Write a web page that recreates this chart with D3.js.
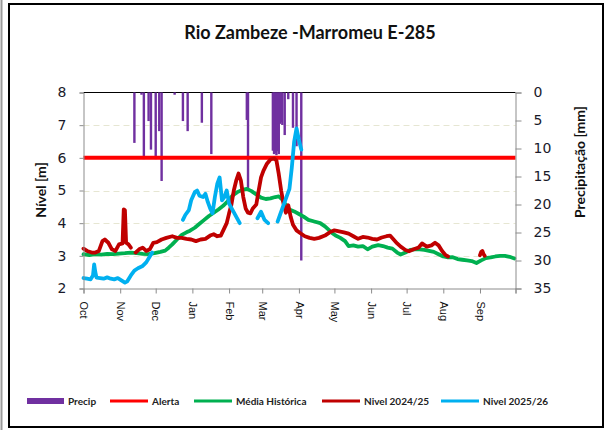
<!DOCTYPE html>
<html><head><meta charset="utf-8">
<script src="https://cdn.jsdelivr.net/npm/d3@7"></script>
<style>
html,body{margin:0;padding:0;background:#fff;}
svg{display:block;}
</style></head>
<body>
<svg id="chart" width="615" height="430"></svg>
<script>
// ---------- DATA ----------
const title = "Rio Zambeze -Marromeu E-285";
const monthLabels = ["Oct","Nov","Dec","Jan","Feb","Mar","Apr","May","Jun","Jul","Aug","Sep"];
const monthStartDays = [0,31,61,92,123,151,182,212,243,273,304,335];
const yearDays = 365;
const levelTicks = [2,3,4,5,6,7,8];
const precipTicks = [0,5,10,15,20,25,30,35];
const alertLevel = 6;

// Média Histórica (day offset from 1 Oct, level m)
const mediaDays = [0,5,10,15,20,25,30,35,40,45,50,55,60,65,69,72,75,79,83,87,90,94,98,102,106,110,114,118,122,126,130,134,138,142,146,150,154,158,162,165,168,171,174,178,182,186,190,195,200,204,207,210,213,217,221,224,228,232,236,240,244,249,253,257,261,265,268,272,276,280,284,288,292,296,300,304,308,312,316,320,324,328,332,336,340,344,348,352,356,360,364];
const mediaVals = [3.05,3.02,3.05,3.04,3.06,3.05,3.07,3.08,3.1,3.08,3.06,3.05,3.08,3.12,3.16,3.25,3.35,3.5,3.64,3.72,3.77,3.86,3.98,4.1,4.22,4.32,4.42,4.53,4.68,4.85,4.95,5.02,5.05,4.98,4.88,4.78,4.74,4.76,4.8,4.82,4.72,4.55,4.42,4.36,4.28,4.2,4.1,4.05,4.0,3.9,3.8,3.7,3.62,3.55,3.45,3.3,3.32,3.28,3.3,3.2,3.28,3.33,3.3,3.25,3.22,3.1,3.04,3.1,3.18,3.2,3.2,3.18,3.15,3.12,3.05,2.98,2.95,2.96,2.9,2.88,2.86,2.84,2.78,2.86,2.93,2.95,2.98,3.0,3.0,2.97,2.92];

// Nível 2024/25
const n2425Days = [0,3,7,10,13,16,18,21,24,27,30,33,34,35,36,38,40,42,44,47,50,53,56,59,62,66,70,75,79,83,87,91,95,99,103,107,110,113,116,119,121,123,125,127,129,131,133,135,137,139,141,143,146,148,150,152,155,158,161,163,165,167,169,171,173,175,177,180,183,187,191,195,199,204,208,212,216,220,224,228,232,236,240,244,248,252,256,259,262,265,268,272,275,279,283,286,290,294,297,300,303,306,308,320,335,336,337,338,339];
const n2425Vals = [3.22,3.15,3.1,3.1,3.15,3.45,3.5,3.4,3.2,3.15,3.35,3.38,4.42,4.4,3.4,3.35,3.25,null,3.1,3.2,3.25,3.15,3.2,3.4,3.42,3.5,3.55,3.6,3.55,3.55,3.52,3.5,3.45,3.5,3.52,3.62,3.66,3.6,3.62,3.85,4.0,4.3,4.57,5.0,5.3,5.52,5.3,4.8,4.45,4.32,4.3,4.45,4.57,5.0,5.4,5.6,5.82,5.95,5.98,5.92,5.5,5.0,4.6,4.32,4.55,4.2,3.95,3.78,3.7,3.6,3.55,3.52,3.55,3.62,3.72,3.78,3.75,3.72,3.68,3.6,3.52,3.58,3.56,3.52,3.5,3.56,3.6,3.62,3.5,3.38,3.28,3.18,3.14,3.2,3.25,3.38,3.28,3.32,3.4,3.32,3.15,3.02,2.98,null,3.02,3.12,3.15,3.05,3.0];

// Nível 2025/26
const n2526Days = [0,3,6,8,9,10,11,14,17,20,23,26,29,32,35,37,40,43,46,50,53,56,58,70,84,86,89,91,94,96,98,101,103,105,107,109,111,113,115,117,119,121,123,126,129,132,140,147,150,153,156,160,164,166,168,171,174,176,178,180,182,184];
const n2526Vals = [2.32,2.3,2.28,2.4,2.74,2.5,2.33,2.32,2.3,2.34,2.3,2.28,2.32,2.25,2.18,2.22,2.4,2.55,2.62,2.69,2.8,2.98,3.1,null,4.1,4.25,4.4,4.7,4.95,5.0,4.84,4.8,4.9,4.65,4.45,4.3,4.8,5.2,5.4,4.7,4.8,5.0,4.6,4.4,4.2,4.0,null,4.15,4.35,4.1,4.0,null,4.05,4.25,4.45,4.75,5.05,5.7,6.5,6.9,6.55,6.25];

// Precipitação (day offset, mm)
const precipDays = [43,49,51,55,57,61,64,66,77,84,88,100,108,138,139,160,161,162,163,164,165,166,167,168,170,173,177,180,184];
const precipVals = [9.0,0.4,11.9,5.1,10.2,11.9,6.9,15.8,0.4,5.1,6.9,5.4,11.0,4.9,17.5,10.4,11.0,10.8,11.2,10.5,11.0,5.6,5.3,5.8,7.6,1.2,6.3,9.6,30.0];

// Legend
const legendNames = ["Precip","Alerta","Média Histórica","Nivel 2024/25","Nivel 2025/26"];
const colors = {precip:"#7030a0", alerta:"#ff0000", media:"#00b050", n2425:"#c00000", n2526:"#00b0f0"};

// ---------- LAYOUT ----------
const svg = d3.select("#chart");
const L = 83.5, R = 515.5, T = 92.5, B = 288.5;
const x = d3.scaleLinear().domain([0, yearDays]).range([L, R]);
const yL = d3.scaleLinear().domain([2, 8]).range([B, T]);
const yR = d3.scaleLinear().domain([0, 35]).range([T, B]);
const numFont = "'DejaVu Sans', Verdana, sans-serif";
const hum = "Lato, 'Open Sans', sans-serif";

// frame
svg.append("rect").attr("x",0).attr("y",0).attr("width",615).attr("height",430).attr("fill","#fff");
svg.append("line").attr("x1",1.5).attr("x2",1.5).attr("y1",0).attr("y2",430).attr("stroke","#9a9a9a").attr("stroke-width",2);
svg.append("rect").attr("x",9).attr("y",4).attr("width",594).attr("height",423)
  .attr("fill","none").attr("stroke","#000").attr("stroke-width",2);

// title
svg.append("text").attr("x",310).attr("y",39).attr("text-anchor","middle")
  .style("font-family",hum).style("font-weight","bold").style("font-size","18px").attr("fill","#111")
  .text(title);

// gridlines
svg.append("g").selectAll("line").data(levelTicks.filter(d => d > 2 && d < 8)).join("line")
  .attr("x1",L).attr("x2",R).attr("y1",d => Math.round(yL(d))+0.5).attr("y2",d => Math.round(yL(d))+0.5)
  .attr("stroke","#e6e6d2").attr("stroke-width",1).attr("stroke-dasharray","6,4");

// top border
svg.append("line").attr("x1",L).attr("x2",R).attr("y1",T).attr("y2",T).attr("stroke","#000").attr("stroke-width",1);

// precip bars
const precip = precipDays.map((d,i) => ({d, v: precipVals[i]}));
svg.append("g").selectAll("rect").data(precip).join("rect")
  .attr("x", d => x(d.d) - 1.2).attr("width", 2.4)
  .attr("y", yR(0)).attr("height", d => yR(d.v) - yR(0))
  .attr("fill", colors.precip);

// alert line
svg.append("line").attr("x1",L).attr("x2",R).attr("y1",yL(alertLevel)).attr("y2",yL(alertLevel))
  .attr("stroke",colors.alerta).attr("stroke-width",4);

// series
function drawSeries(days, vals, color){
  const pts = days.map((d,i) => ({d, v: vals[i]}));
  const line = d3.line().defined(p => p.v != null).x(p => x(p.d)).y(p => yL(p.v));
  svg.append("path").datum(pts).attr("d", line).attr("fill","none")
    .attr("stroke", color).attr("stroke-width", 3.8).attr("stroke-linejoin","round").attr("stroke-linecap","round");
}
drawSeries(mediaDays, mediaVals, colors.media);
drawSeries(n2425Days, n2425Vals, colors.n2425);
drawSeries(n2526Days, n2526Vals, colors.n2526);

// axes
const axisColor = "#8c8c8c";
const gL = svg.append("g").attr("transform",`translate(${L},0)`)
  .call(d3.axisLeft(yL).tickValues(levelTicks).tickSize(4).tickPadding(13).tickFormat(d3.format("d")));
const gR = svg.append("g").attr("transform",`translate(${R},0)`)
  .call(d3.axisRight(yR).tickValues(precipTicks).tickSize(6).tickPadding(12).tickFormat(d3.format("d")));
const gB = svg.append("g").attr("transform",`translate(0,${B})`)
  .call(d3.axisBottom(x).tickValues(monthStartDays.concat([yearDays])).tickSize(5)
    .tickFormat((d,i) => monthLabels[i] || ""));
[gL,gR,gB].forEach(g => {
  g.select(".domain").attr("stroke",axisColor);
  g.selectAll(".tick line").attr("stroke",axisColor);
});
[gL,gR].forEach(g => g.selectAll("text").style("font-family",numFont).style("font-size","14px").attr("fill","#1a1a2a"));
gB.selectAll("text")
  .style("font-family","'Liberation Sans', Arial, sans-serif").style("font-size","11px").attr("fill","#111")
  .attr("text-anchor","start").attr("dy","0.35em")
  .attr("transform","translate(0,5) rotate(90)").attr("x",8).attr("y",0);

// axis titles
svg.append("text").attr("transform","translate(46,190) rotate(-90)").attr("text-anchor","middle")
  .style("font-family",hum).style("font-weight","bold").style("font-size","14px").attr("fill","#111")
  .text("Nível [m]");
svg.append("text").attr("transform","translate(585,162) rotate(-90)").attr("text-anchor","middle")
  .style("font-family",hum).style("font-weight","bold").style("font-size","14px").attr("fill","#111")
  .text("Precipitação  [mm]");

// legend
const legX = [27,110,194,322,441];
const legKeys = ["precip","alerta","media","n2425","n2526"];
const lg = svg.append("g");
legendNames.forEach((name,i) => {
  const c = colors[legKeys[i]];
  if (i === 0) {
    lg.append("rect").attr("x",legX[i]).attr("y",398).attr("width",37).attr("height",6).attr("fill",c);
  } else {
    lg.append("line").attr("x1",legX[i]).attr("x2",legX[i]+38).attr("y1",401).attr("y2",401)
      .attr("stroke",c).attr("stroke-width",3);
  }
  lg.append("text").attr("x",legX[i] + (i===0?41:42)).attr("y",404.5)
    .style("font-family",hum).style("font-weight","bold").style("font-size","10px").attr("fill","#222")
    .text(name);
});
</script>
</body></html>
